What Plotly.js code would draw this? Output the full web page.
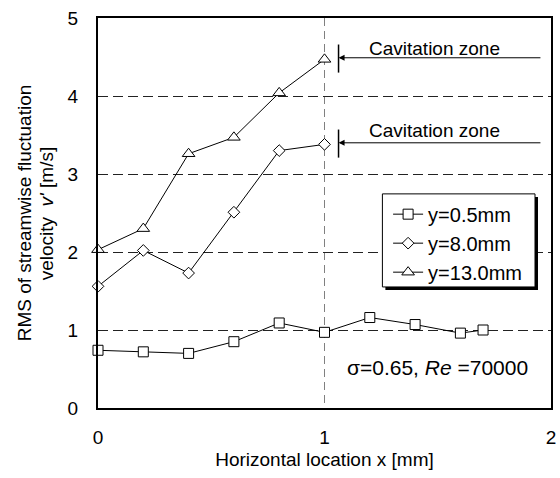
<!DOCTYPE html>
<html>
<head>
<meta charset="utf-8">
<script src="https://cdn.plot.ly/plotly-3.0.1.min.js"></script>
<style>html,body{margin:0;padding:0;background:#fff}#chart{width:560px;height:478px}</style>
</head>
<body>
<div id="chart"></div>
<script>
// Data
const seriesNames = ["y=0.5mm", "y=8.0mm", "y=13.0mm"];
const xSquare = [0, 0.2, 0.4, 0.6, 0.8, 1.0, 1.2, 1.4, 1.6, 1.7];
const ySquare = [0.74, 0.72, 0.70, 0.85, 1.09, 0.97, 1.16, 1.07, 0.96, 1.00];
const xDiamond = [0, 0.2, 0.4, 0.6, 0.8, 1.0];
const yDiamond = [1.56, 2.02, 1.73, 2.51, 3.30, 3.38];
const xTriangle = [0, 0.2, 0.4, 0.6, 0.8, 1.0];
const yTriangle = [2.03, 2.30, 3.26, 3.47, 4.04, 4.47];
const xTickVals = [0, 1, 2];
const yTickVals = [0, 1, 2, 3, 4, 5];
const labelText = "Cavitation zone";
const conditionText = "σ=0.65, <i>Re</i> =70000";

const FONT = "Liberation Sans, Arial, sans-serif";

function series(x, y, name, symbol, size, group) {
  return {
    x: x, y: y, name: name, type: "scatter", mode: "lines+markers",
    legendgroup: group,
    line: {color: "#000", width: 1},
    marker: {symbol: symbol, size: size, color: "#fff", line: {color: "#000", width: 1}},
    cliponaxis: false
  };
}

const data = [
  series(xSquare, ySquare, seriesNames[0], "square", 10, "a"),
  series(xDiamond, yDiamond, seriesNames[1], "diamond", 9, "b"),
  series(xTriangle, yTriangle, seriesNames[2], "triangle-up", 11, "c")
];

const arrowX0 = 1.062, arrowX1 = 1.96;
const lastTri = yTriangle[yTriangle.length - 1];
const lastDia = yDiamond[yDiamond.length - 1];

const layout = {
  width: 560, height: 478,
  margin: {l: 98, r: 9, t: 18, b: 70},
  paper_bgcolor: "#fff", plot_bgcolor: "#fff",
  font: {family: FONT, size: 19, color: "#000"},
  showlegend: true,
  legend: {
    x: 0.6404, y: 0.547, xanchor: "left", yanchor: "top",
    bgcolor: "rgba(0,0,0,0)", borderwidth: 0,
    font: {family: FONT, size: 20, color: "#000"},
    tracegroupgap: 0
  },
  xaxis: {
    range: [0, 2], tickvals: xTickVals, ticktext: xTickVals.map(String),
    showline: true, linecolor: "#000", linewidth: 2, mirror: true,
    ticks: "outside", ticklen: 11, tickcolor: "rgba(0,0,0,0)",
    showgrid: true, gridcolor: "#808080", gridwidth: 1, griddash: "8px,5px",
    zeroline: false,
    title: {text: "Horizontal location x [mm]", font: {family: FONT, size: 19}, standoff: 6}
  },
  yaxis: {
    range: [0, 5], tickvals: yTickVals, ticktext: yTickVals.map(String),
    showline: true, linecolor: "#000", linewidth: 2, mirror: true,
    ticks: "outside", ticklen: 14, tickcolor: "rgba(0,0,0,0)",
    showgrid: true, gridcolor: "#222", gridwidth: 1, griddash: "10px,5px",
    zeroline: false
  },
  shapes: [
    // legend drop shadow and frame
    {type: "rect", xref: "paper", yref: "paper", x0: 0.6344, x1: 0.9713, y0: 0.3027, y1: 0.5413,
     fillcolor: "#000", line: {width: 0}, layer: "above"},
    {type: "rect", xref: "paper", yref: "paper", x0: 0.6278, x1: 0.9647, y0: 0.3104, y1: 0.549,
     fillcolor: "#fff", line: {color: "#000", width: 1}, layer: "above"},
    {type: "line", xref: "x", yref: "y", x0: arrowX0, x1: arrowX0, y0: lastTri - 0.17, y1: lastTri + 0.19,
     line: {color: "#000", width: 1.5}},
    {type: "line", xref: "x", yref: "y", x0: arrowX0, x1: arrowX0, y0: lastDia - 0.17, y1: lastDia + 0.19,
     line: {color: "#000", width: 1.5}}
  ],
  annotations: [
    {xref: "x", yref: "y", x: arrowX0, y: lastTri + 0.02, ax: arrowX1, ay: lastTri + 0.02, axref: "x", ayref: "y",
     text: "", showarrow: true, arrowhead: 2, arrowsize: 1.2, arrowwidth: 1, arrowcolor: "#000"},
    {xref: "x", yref: "y", x: arrowX0, y: lastDia + 0.02, ax: arrowX1, ay: lastDia + 0.02, axref: "x", ayref: "y",
     text: "", showarrow: true, arrowhead: 2, arrowsize: 1.2, arrowwidth: 1, arrowcolor: "#000"},
    {xref: "x", yref: "y", x: 1.486, y: 4.615, text: labelText, showarrow: false,
     font: {family: FONT, size: 19, color: "#000"}},
    {xref: "x", yref: "y", x: 1.486, y: 3.559, text: labelText, showarrow: false,
     font: {family: FONT, size: 19, color: "#000"}},
    {xref: "x", yref: "y", x: 1.5, y: 0.513, text: conditionText, showarrow: false,
     font: {family: FONT, size: 21, color: "#000"}},
    {xref: "paper", yref: "paper", x: 0, y: 0.5, xanchor: "center", yanchor: "middle", xshift: -73.7,
     text: "RMS of streamwise fluctuation", textangle: -90, showarrow: false,
     font: {family: FONT, size: 19, color: "#000"}},
    {xref: "paper", yref: "paper", x: 0, y: 0.5, xanchor: "center", yanchor: "middle", xshift: -51.7,
     text: "velocity  <i>v'</i> [m/s]", textangle: -90, showarrow: false,
     font: {family: FONT, size: 19, color: "#000"}}
  ]
};

Plotly.newPlot("chart", data, layout, {displayModeBar: false, staticPlot: true});
</script>
</body>
</html>
